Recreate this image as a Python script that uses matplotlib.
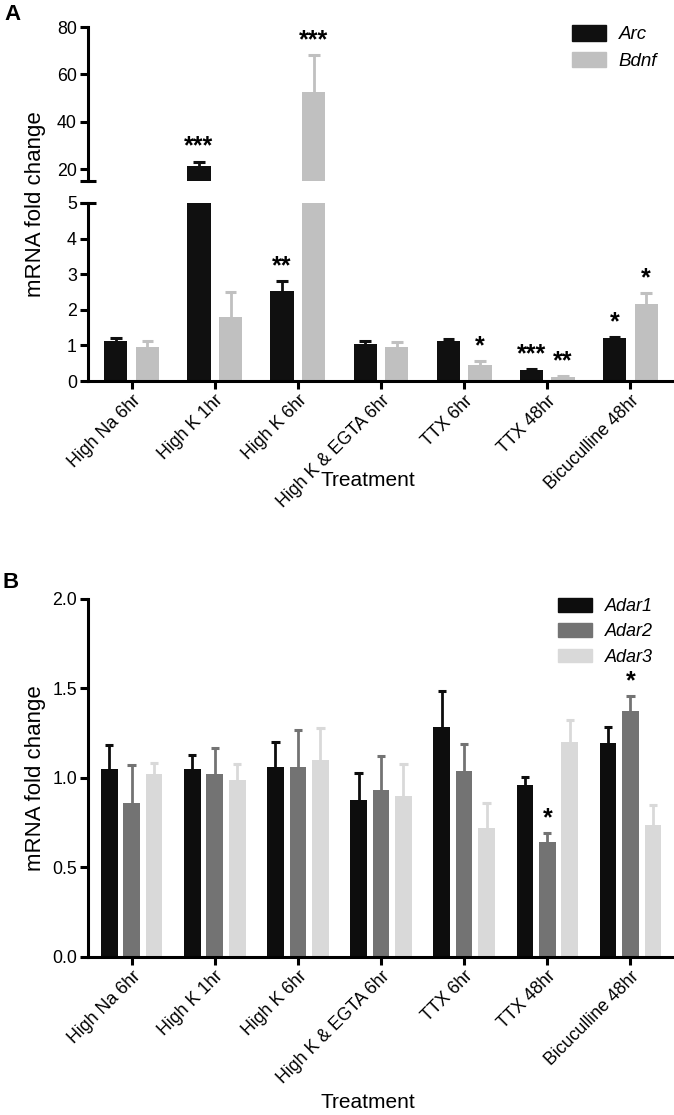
import matplotlib
matplotlib.use("Agg")
import matplotlib.pyplot as plt
import matplotlib.patches as mpatches
import numpy as np

plt.rcParams['font.family'] = ['Liberation Sans', 'DejaVu Sans']

# treatments (shared by both panels)
treatments = ["High Na 6hr", "High K 1hr", "High K 6hr", "High K & EGTA 6hr",
              "TTX 6hr", "TTX 48hr", "Bicuculline 48hr"]

# panel A: Arc / Bdnf mRNA fold change (mean, SEM)
arc_mean = [1.12, 21.2, 2.52, 1.05, 1.11, 0.31, 1.20]
arc_err = [0.08, 2.0, 0.29, 0.07, 0.07, 0.02, 0.04]
arc_sig = ["", "***", "**", "", "", "***", "*"]
bdnf_mean = [0.95, 1.81, 52.5, 0.96, 0.45, 0.12, 2.16]
bdnf_err = [0.17, 0.70, 15.5, 0.13, 0.11, 0.02, 0.32]
bdnf_sig = ["", "", "***", "", "*", "**", "*"]

# panel B: Adar1/2/3 mRNA fold change (mean, SEM)
adar1_mean = [1.05, 1.05, 1.06, 0.875, 1.285, 0.96, 1.195]
adar1_err = [0.135, 0.077, 0.137, 0.15, 0.20, 0.045, 0.09]
adar1_sig = ["", "", "", "", "", "", ""]
adar2_mean = [0.86, 1.02, 1.06, 0.93, 1.04, 0.64, 1.37]
adar2_err = [0.21, 0.145, 0.205, 0.19, 0.15, 0.05, 0.085]
adar2_sig = ["", "", "", "", "", "*", "*"]
adar3_mean = [1.02, 0.985, 1.10, 0.90, 0.72, 1.20, 0.735]
adar3_err = [0.06, 0.09, 0.18, 0.175, 0.14, 0.12, 0.11]
adar3_sig = ["", "", "", "", "", "", ""]

W, H = 674, 1115
fig = plt.figure(figsize=(W / 100, H / 100), dpi=100)

LW = 2.2
TICK_FS = 12.8
LAB_FS = 15


def px_rect(x0, y0, x1, y1):
    # pixel box (top-left origin) -> figure fraction rect
    return [x0 / W, 1 - y1 / H, (x1 - x0) / W, (y1 - y0) / H]


def style_axis(ax):
    for s in ["top", "right"]:
        ax.spines[s].set_visible(False)
    for s in ["left", "bottom"]:
        ax.spines[s].set_linewidth(LW)
    ax.tick_params(width=LW, length=6, labelsize=TICK_FS, direction="out", pad=2)


def draw_bars(ax, xs, means, errs, color, bw):
    xs = np.asarray(xs)
    tops = np.asarray(means) + np.asarray(errs)
    ax.bar(xs, means, width=bw, color=color, edgecolor="none", zorder=2)
    # one-sided (upper) error bars
    ax.vlines(xs, means, tops, color=color, lw=2, zorder=1)
    ax.hlines(tops, xs - bw * 0.25, xs + bw * 0.25, color=color, lw=2.2, zorder=1)


def draw_stars(ax, xs, means, errs, sigs, lo, hi, off=2):
    for x, m, e, s in zip(xs, means, errs, sigs):
        top = m + e
        if s and lo <= top <= hi:
            ax.annotate(s, xy=(x, top), xytext=(0, off), textcoords="offset points",
                        ha="center", va="bottom", fontsize=18, fontweight="bold",
                        annotation_clip=False)


x = np.arange(len(treatments))
xlim = (-0.525, 6.5)

# ---------------- panel A (broken y axis) ----------------
axA_top = fig.add_axes(px_rect(88, 27, 672, 181))
axA_bot = fig.add_axes(px_rect(88, 203, 672, 381))
arc_col = "#101010"
bdnf_col = "#c0c0c0"
bwA = 0.28
offA = 0.19
for ax, (lo, hi) in [(axA_top, (15, 80)), (axA_bot, (0, 5))]:
    style_axis(ax)
    draw_bars(ax, x - offA, arc_mean, arc_err, arc_col, bwA)
    draw_bars(ax, x + offA, bdnf_mean, bdnf_err, bdnf_col, bwA)
    draw_stars(ax, x - offA, arc_mean, arc_err, arc_sig, lo, hi)
    draw_stars(ax, x + offA, bdnf_mean, bdnf_err, bdnf_sig, lo, hi)
    ax.set_ylim(lo, hi)
    ax.set_xlim(*xlim)

axA_top.set_yticks([20, 40, 60, 80])
axA_top.spines["bottom"].set_visible(False)
axA_top.tick_params(axis="x", bottom=False, labelbottom=False)
axA_bot.set_yticks([0, 1, 2, 3, 4, 5])
axA_bot.set_xticks(x)
axA_bot.set_xticklabels(treatments, rotation=45, ha="right", rotation_mode="anchor")
# break marks on the y axis
for ax, yy in [(axA_top, 0), (axA_bot, 1)]:
    ax.plot([-0.014, 0.014], [yy, yy], transform=ax.transAxes, color="k",
            lw=LW, clip_on=False, solid_capstyle="butt")

fig.text(36 / W, 1 - 204 / H, "mRNA fold change", rotation=90, ha="center",
         va="center", fontsize=16)
fig.text(368 / W, 1 - 481 / H, "Treatment", ha="center", va="center", fontsize=LAB_FS)
fig.text(4 / W, 1 - 4 / H, "A", ha="left", va="top", fontsize=16, fontweight="bold")

legA = [mpatches.Patch(color=arc_col, label="Arc"),
        mpatches.Patch(color=bdnf_col, label="Bdnf")]
fig.legend(handles=legA, loc="upper left", bbox_to_anchor=(572 / W, 1 - 25 / H),
           bbox_transform=fig.transFigure, frameon=False, borderpad=0,
           borderaxespad=0, handlelength=1.8, handleheight=0.9, handletextpad=0.7,
           labelspacing=0.45, prop={"style": "italic", "size": 13.5})

# ---------------- panel B ----------------
axB = fig.add_axes(px_rect(88, 598.7, 672, 956.7))
style_axis(axB)
bwB = 0.2
stepB = 0.27
colsB = ["#0d0d0d", "#737373", "#d9d9d9"]
seriesB = [(adar1_mean, adar1_err, adar1_sig), (adar2_mean, adar2_err, adar2_sig),
           (adar3_mean, adar3_err, adar3_sig)]
for i, ((m, e, s), c) in enumerate(zip(seriesB, colsB)):
    xs = x + (i - 1) * stepB
    draw_bars(axB, xs, m, e, c, bwB)
    draw_stars(axB, xs, m, e, s, 0, 2)
axB.set_ylim(0, 2.0)
axB.set_xlim(*xlim)
axB.set_yticks([0, 0.5, 1.0, 1.5, 2.0])
axB.set_yticklabels(["0.0", "0.5", "1.0", "1.5", "2.0"])
axB.set_xticks(x)
axB.set_xticklabels(treatments, rotation=45, ha="right", rotation_mode="anchor")

fig.text(36 / W, 1 - 778 / H, "mRNA fold change", rotation=90, ha="center",
         va="center", fontsize=16)
fig.text(368 / W, 1 - 1103 / H, "Treatment", ha="center", va="center", fontsize=LAB_FS)
fig.text(2 / W, 1 - 572 / H, "B", ha="left", va="top", fontsize=16, fontweight="bold")

legB = [mpatches.Patch(color=c, label=l) for c, l in zip(colsB, ["Adar1", "Adar2", "Adar3"])]
fig.legend(handles=legB, loc="upper left", bbox_to_anchor=(558 / W, 1 - 598 / H),
           bbox_transform=fig.transFigure, frameon=False, borderpad=0,
           borderaxespad=0, handlelength=1.9, handleheight=0.8, handletextpad=0.7,
           labelspacing=0.45, prop={"style": "italic", "size": 13})

fig.savefig("out.png", dpi=100)
